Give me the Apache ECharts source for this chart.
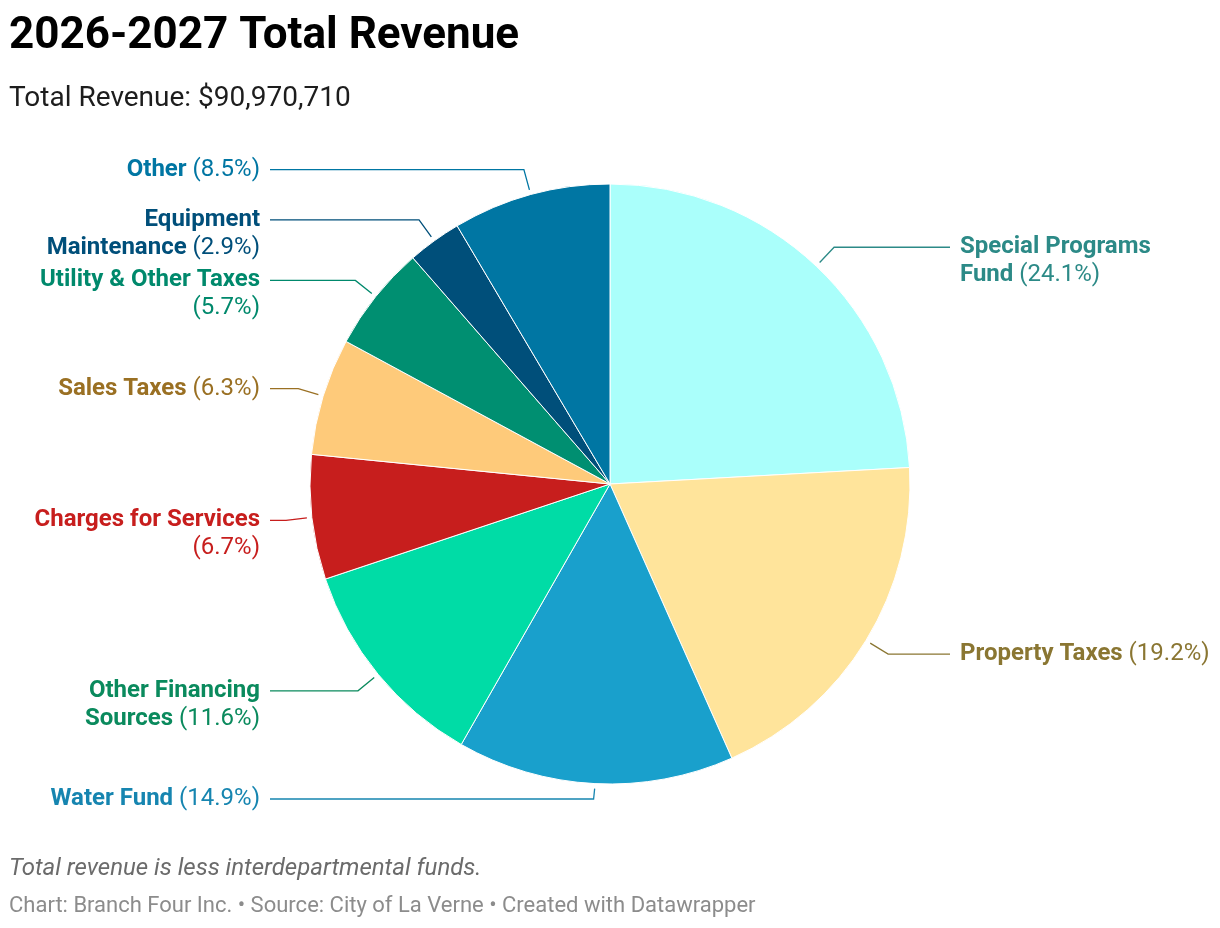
<!DOCTYPE html>
<html>
<head>
<meta charset="utf-8">
<style>
html,body{margin:0;padding:0;background:#fff;}
#chart{width:1220px;height:928px;}
</style>
<script src="https://cdn.jsdelivr.net/npm/echarts@6/dist/echarts.min.js"></script>
</head>
<body>
<div id="chart"></div>
<script>
// ---- data ----
var categories = ['Special Programs Fund', 'Property Taxes', 'Water Fund', 'Other Financing Sources',
  'Charges for Services', 'Sales Taxes', 'Utility & Other Taxes', 'Equipment Maintenance', 'Other'];
var labelNameLines = [
  ['Special Programs', 'Fund'],
  ['Property Taxes'],
  ['Water Fund'],
  ['Other Financing', 'Sources'],
  ['Charges for Services', ''],
  ['Sales Taxes'],
  ['Utility & Other Taxes', ''],
  ['Equipment', 'Maintenance'],
  ['Other']
];
var shares = [24.1, 19.2, 14.9, 11.6, 6.7, 6.3, 5.7, 2.9, 8.5];
var sliceColors = ['#aafffb', '#ffe49b', '#19a0cc', '#00dca6', '#c71e1d', '#feca7a', '#008f71', '#004f7a', '#0076a3'];
var labelColors = ['#2c8a87', '#8a7632', '#1685b0', '#0a8a5d', '#c71e1d', '#9a7023', '#00896c', '#004f7a', '#0076a3'];
var titleText = '2026-2027 Total Revenue';
var subtitleText = 'Total Revenue: $90,970,710';
var noteText = 'Total revenue is less interdepartmental funds.';
var footerText = 'Chart: Branch Four Inc. \u2022 Source: City of La Verne \u2022 Created with Datawrapper';

// ---- layout constants ----
var CY = 484, R = 300;
var LEFT_COL = 260, RIGHT_COL = 960;

var chart = echarts.init(document.getElementById('chart'), null, {renderer: 'canvas'});

function esc(s){ return s.replace(/[{}|]/g, ''); }

var seriesData = categories.map(function (c, i) {
  return {
    name: c,
    value: shares[i],
    itemStyle: {color: sliceColors[i]},
    label: {color: labelColors[i]},
    labelLine: {lineStyle: {color: labelColors[i]}}
  };
});

var option = {
  animation: false,
  backgroundColor: '#ffffff',
  title: [
    {text: titleText, left: 9, top: 15, padding: 0,
      textStyle: {fontFamily: 'Roboto', fontWeight: 'bold', fontSize: 44, color: '#000000'}},
    {text: subtitleText, left: 9, top: 85, padding: 0,
      textStyle: {fontFamily: 'Roboto', fontWeight: 'normal', fontSize: 28, color: '#1d1d1d'}},
    {text: noteText, left: 9, top: 857, padding: 0,
      textStyle: {fontFamily: 'Roboto', fontStyle: 'italic', fontWeight: 'normal', fontSize: 24, color: '#6b6b6b'}},
    {text: footerText, left: 9, top: 895, padding: 0,
      textStyle: {fontFamily: 'Roboto', fontWeight: 'normal', fontSize: 22, color: '#8c8c8c'}}
  ],
  series: [{
    type: 'pie',
    center: ['50%', CY],
    radius: [0, R],
    startAngle: 90,
    clockwise: true,
    silent: true,
    itemStyle: {borderColor: '#ffffff', borderWidth: 1},
    label: {
      show: true,
      position: 'outside',
      fontFamily: 'Roboto',
      fontSize: 24,
      lineHeight: 28,
      formatter: function (p) {
        var lines = labelNameLines[p.dataIndex];
        var pct = '{p|(' + shares[p.dataIndex].toFixed(1) + '%)}';
        var out = [];
        for (var k = 0; k < lines.length; k++) {
          var t = lines[k] ? '{n|' + esc(lines[k]) + '}' : '';
          if (k === lines.length - 1) t = t ? t + ' ' + pct : pct;
          out.push(t);
        }
        return out.join('\n');
      },
      rich: {
        n: {fontFamily: 'Roboto', fontWeight: 'bold', fontSize: 24, lineHeight: 28},
        p: {fontFamily: 'Roboto', fontWeight: 'normal', fontSize: 24, lineHeight: 28}
      }
    },
    labelLine: {show: true, length: 26, length2: 5, smooth: false, lineStyle: {width: 1.3}},
    labelLayout: function (p) {
      var pts = p.labelLinePoints;
      if (!pts) return {};
      var cx = chart.getWidth() / 2;
      var p0 = pts[0], p1 = pts[1];
      var left = p1[0] < cx;
      var dx = p1[0] - p0[0], dy = p1[1] - p0[1];
      var d = Math.sqrt(dx * dx + dy * dy) || 1;
      var start = [p0[0] + dx / d * 5, p0[1] + dy / d * 5];
      var y = Math.min(p1[1], CY + R + 15);
      var endX = left ? LEFT_COL + 10 : RIGHT_COL - 10;
      return {
        x: left ? LEFT_COL : RIGHT_COL,
        y: y - 14,
        align: left ? 'right' : 'left',
        verticalAlign: 'top',
        labelLinePoints: [start, [p1[0], y], [endX, y]]
      };
    },
    data: seriesData
  }]
};
chart.setOption(option);
</script>
</body>
</html>
